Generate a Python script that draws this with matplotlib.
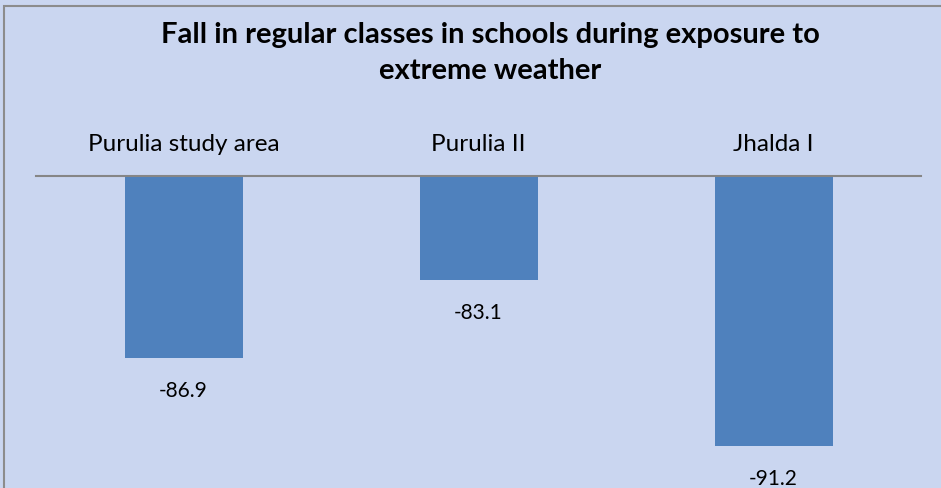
import matplotlib
matplotlib.use("Agg")
import matplotlib.pyplot as plt
from matplotlib.patches import Rectangle

areas = ["Purulia study area", "Purulia II", "Jhalda I"]
fall = [-86.9, -83.1, -91.2]
axis_cross = -78

plt.rcParams['font.family'] = ['Lato', 'DejaVu Sans']

W, H = 941, 489
fig = plt.figure(figsize=(W / 100, H / 100), dpi=100)
fig.patch.set_facecolor('#cad6f0')
# chart border (only top/left visible in the crop)
fig.patches.append(Rectangle((4 / W, -0.1), 1.2, 1 - 7 / H + 0.1, transform=fig.transFigure,
                             fill=False, edgecolor='#8c8c8c', lw=1.5))

ax = fig.add_axes([36 / W, 1 - 466 / H, (921 - 36) / W, (466 - 177) / H])
ax.set_facecolor('none')
x = range(len(areas))
heights = [v - axis_cross for v in fall]
bars = ax.bar(x, heights, bottom=axis_cross, width=0.4, color='#4f81bd')
ax.set_ylim(-92.14, axis_cross)
ax.set_xlim(-0.5, 2.5)

for xi, v in zip(x, fall):
    ax.annotate(f"{v:.1f}", (xi, v), xytext=(0, -23), textcoords='offset points',
                ha='center', va='center', fontsize=15, annotation_clip=False)

ax.xaxis.tick_top()
ax.set_xticks(list(x))
ax.set_xticklabels(areas, fontsize=17.5)
ax.tick_params(axis='x', length=0, pad=16)
ax.set_yticks([])
for s in ['left', 'right', 'bottom']:
    ax.spines[s].set_visible(False)
ax.spines['top'].set_color('#868686')
ax.spines['top'].set_linewidth(1.5)

fig.text(490 / W, 1 - 53 / H, "Fall in regular classes in schools during exposure to\nextreme weather",
         ha='center', va='center', fontsize=21, fontweight='bold', linespacing=1.5)

fig.savefig("out.png", dpi=100)
